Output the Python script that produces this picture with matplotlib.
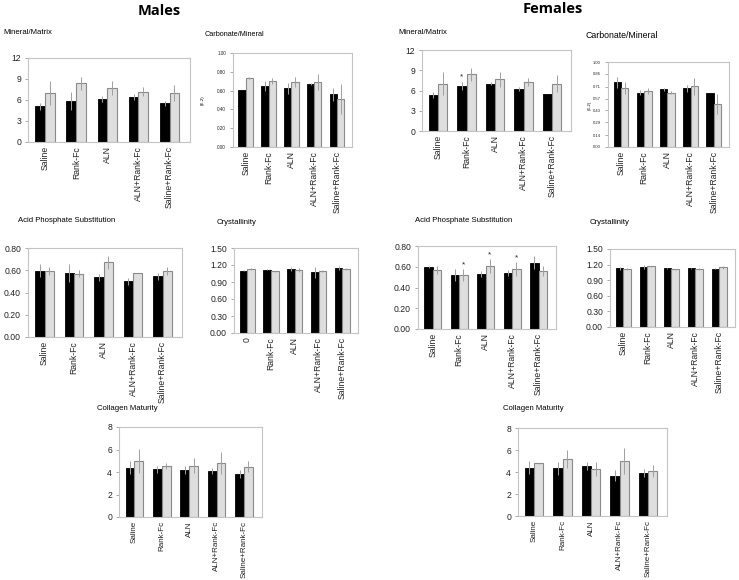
import matplotlib
matplotlib.use('Agg')
import matplotlib.pyplot as plt
import numpy as np

plt.rcParams['font.family'] = ['Liberation Sans', 'DejaVu Sans']

W, H = 739, 580

groups = ['Saline', 'Rank-Fc', 'ALN', 'ALN+Rank-Fc', 'Saline+Rank-Fc']
groups_cryst_m = ['0', 'Rank-Fc', 'ALN', 'ALN+Rank-Fc', 'Saline+Rank-Fc']

# Males
m_mm_black = [5.1, 5.85, 6.1, 6.4, 5.5]
m_mm_black_err = [0.5, 1.35, 0.4, 0.4, 0.4]
m_mm_grey = [7.0, 8.4, 7.7, 7.2, 7.0]
m_mm_grey_err = [1.7, 0.95, 1.0, 0.6, 1.2]

m_carb_black = [0.61, 0.65, 0.625, 0.67, 0.56]
m_carb_black_err = [0.0, 0.05, 0.06, 0.015, 0.07]
m_carb_grey = [0.73, 0.70, 0.69, 0.69, 0.51]
m_carb_grey_err = [0.01, 0.03, 0.05, 0.085, 0.16]

m_acid_black = [0.595, 0.575, 0.535, 0.50, 0.545]
m_acid_black_err = [0.06, 0.08, 0.03, 0.03, 0.03]
m_acid_grey = [0.59, 0.57, 0.67, 0.575, 0.59]
m_acid_grey_err = [0.035, 0.035, 0.055, 0.0, 0.035]

m_cryst_black = [1.10, 1.12, 1.13, 1.07, 1.15]
m_cryst_black_err = [0.01, 0.01, 0.03, 0.10, 0.03]
m_cryst_grey = [1.13, 1.09, 1.11, 1.09, 1.13]
m_cryst_grey_err = [0.01, 0.01, 0.04, 0.02, 0.02]

m_coll_black = [4.39, 4.24, 4.2, 4.09, 3.85]
m_coll_black_err = [0.6, 0.3, 0.35, 0.24, 0.35]
m_coll_grey = [4.98, 4.54, 4.57, 4.78, 4.48]
m_coll_grey_err = [1.05, 0.24, 0.7, 1.0, 0.5]

# Females
f_mm_black = [5.33, 6.67, 7.0, 6.27, 5.43]
f_mm_black_err = [0.45, 0.6, 0.25, 0.3, 0.0]
f_mm_grey = [7.0, 8.4, 7.65, 7.26, 7.0]
f_mm_grey_err = [1.7, 1.0, 1.1, 0.65, 1.25]

f_carb_black = [0.76, 0.64, 0.68, 0.69, 0.63]
f_carb_black_err = [0.065, 0.03, 0.02, 0.045, 0.0]
f_carb_grey = [0.69, 0.66, 0.64, 0.716, 0.506]
f_carb_grey_err = [0.07, 0.04, 0.02, 0.10, 0.12]

f_acid_black = [0.598, 0.52, 0.53, 0.54, 0.64]
f_acid_black_err = [0.01, 0.055, 0.025, 0.03, 0.06]
f_acid_grey = [0.566, 0.52, 0.605, 0.58, 0.557]
f_acid_grey_err = [0.04, 0.06, 0.065, 0.065, 0.05]

f_cryst_black = [1.13, 1.15, 1.13, 1.13, 1.12]
f_cryst_black_err = [0.03, 0.04, 0.01, 0.01, 0.01]
f_cryst_grey = [1.12, 1.17, 1.11, 1.11, 1.15]
f_cryst_grey_err = [0.02, 0.01, 0.01, 0.02, 0.03]

f_coll_black = [4.4, 4.34, 4.55, 3.68, 3.87]
f_coll_black_err = [0.6, 0.6, 0.4, 0.5, 0.36]
f_coll_grey = [4.79, 5.18, 4.28, 5.0, 4.1]
f_coll_grey_err = [0.06, 0.8, 0.66, 1.15, 0.57]

# significance stars: (group index, which bar, y value)
f_mm_stars = [(1, 'black', 8.05)]
f_acid_stars = [(1, 'grey', 0.62), (2, 'grey', 0.71), (3, 'grey', 0.69)]

fig = plt.figure(figsize=(W / 100, H / 100), dpi=100)


def px_axes(left, top, right, bottom):
    return fig.add_axes([left / W, 1 - bottom / H, (right - left) / W, (bottom - top) / H])


def draw_panel(box, black, black_err, grey, grey_err, yticks, fmt, labels=groups,
               tick_size=6.2, stars=None, xlab_size=6.2):
    ax = px_axes(*box)
    x = np.arange(len(labels))
    bw = 0.32
    ax.bar(x - bw, black, bw, align='edge', color='black', edgecolor='black', linewidth=0.6, zorder=2)
    ax.bar(x, grey, bw, align='edge', color='#dedede', edgecolor='#8a8a8a', linewidth=0.8, zorder=2)
    ax.errorbar(x - bw / 2, black, yerr=black_err, fmt='none', ecolor='#a0a0a0', elinewidth=0.7, capsize=0, zorder=3)
    ax.errorbar(x + bw / 2, grey, yerr=grey_err, fmt='none', ecolor='#a0a0a0', elinewidth=0.7, capsize=0, zorder=3)
    ax.set_xlim(-0.56, len(labels) - 0.34)
    ax.set_ylim(yticks[0], yticks[-1])
    ax.set_yticks(yticks)
    ax.set_yticklabels([fmt.format(t) for t in yticks], fontsize=tick_size, color='#222222')
    ax.set_xticks(x)
    ax.set_xticklabels(labels, rotation=90, fontsize=xlab_size, color='#222222')
    ax.tick_params(axis='x', length=0, pad=3)
    ax.tick_params(axis='y', length=2, width=0.5, color='#888888', pad=3)
    for s in ax.spines.values():
        s.set_color('#c4c4c4')
        s.set_linewidth(0.8)
    if stars:
        for i, which, y in stars:
            xs = x[i] - bw / 2 if which == 'black' else x[i] + bw / 2
            ax.text(xs, y, '*', ha='center', va='center', fontsize=6, color='#222222')
    return ax


# ---- Males ----
fig.text(159 / W, 1 - 11 / H, 'Males', ha='center', va='center', fontsize=10.5,
         fontweight='bold', family=['Open Sans', 'DejaVu Sans'])

draw_panel((28, 58, 190, 142), m_mm_black, m_mm_black_err, m_mm_grey, m_mm_grey_err,
           [0, 3, 6, 9, 12], '{:.0f}')
fig.text(3 / W, 1 - 33 / H, 'Mineral/Matrix', fontsize=5.6, va='center')

draw_panel((233, 53, 352, 147), m_carb_black, m_carb_black_err, m_carb_grey, m_carb_grey_err,
           [0, 0.2, 0.4, 0.6, 0.8, 1.0], '{:.2f}', tick_size=3.3)
fig.text(205 / W, 1 - 35 / H, 'Carbonate/Mineral', fontsize=5.2, va='center')
fig.text(203 / W, 1 - 100 / H, '(E-2)', fontsize=3.2, rotation=90, ha='center', va='center')

draw_panel((28, 248, 182, 337), m_acid_black, m_acid_black_err, m_acid_grey, m_acid_grey_err,
           [0, 0.2, 0.4, 0.6, 0.8], '{:.2f}')
fig.text(18 / W, 1 - 221 / H, 'Acid Phosphate Substitution', fontsize=5.6, va='center')

draw_panel((234, 248, 358, 333), m_cryst_black, m_cryst_black_err, m_cryst_grey, m_cryst_grey_err,
           [0, 0.3, 0.6, 0.9, 1.2, 1.5], '{:.2f}', labels=groups_cryst_m)
fig.text(217 / W, 1 - 222 / H, 'Crystallinity', fontsize=5.6, va='center')

draw_panel((119, 427, 262, 517), m_coll_black, m_coll_black_err, m_coll_grey, m_coll_grey_err,
           [0, 2, 4, 6, 8], '{:.0f}', xlab_size=5.8)
fig.text(97 / W, 1 - 408 / H, 'Collagen Maturity', fontsize=5.6, va='center')

# ---- Females ----
fig.text(553 / W, 1 - 9 / H, 'Females', ha='center', va='center', fontsize=10.5,
         fontweight='bold', family=['Open Sans', 'DejaVu Sans'])

draw_panel((422, 50, 571, 131), f_mm_black, f_mm_black_err, f_mm_grey, f_mm_grey_err,
           [0, 3, 6, 9, 12], '{:.0f}', stars=f_mm_stars)
fig.text(398 / W, 1 - 33 / H, 'Mineral/Matrix', fontsize=5.6, va='center')

draw_panel((608, 62, 729, 147), f_carb_black, f_carb_black_err, f_carb_grey, f_carb_grey_err,
           [0, 0.14, 0.29, 0.43, 0.57, 0.71, 0.86, 1.0], '{:.2f}', tick_size=3.0)
fig.text(585 / W, 1 - 35 / H, 'Carbonate/Mineral', fontsize=6.3, va='center')
fig.text(590 / W, 1 - 105 / H, '(E-2)', fontsize=3.0, rotation=90, ha='center', va='center')

draw_panel((418, 246, 556, 329), f_acid_black, f_acid_black_err, f_acid_grey, f_acid_grey_err,
           [0, 0.2, 0.4, 0.6, 0.8], '{:.2f}', stars=f_acid_stars)
fig.text(415 / W, 1 - 220 / H, 'Acid Phosphate Substitution', fontsize=5.6, va='center')

draw_panel((610, 249, 735, 327), f_cryst_black, f_cryst_black_err, f_cryst_grey, f_cryst_grey_err,
           [0, 0.3, 0.6, 0.9, 1.2, 1.5], '{:.2f}')
fig.text(590 / W, 1 - 222 / H, 'Crystallinity', fontsize=5.6, va='center')

draw_panel((518, 428, 667, 516), f_coll_black, f_coll_black_err, f_coll_grey, f_coll_grey_err,
           [0, 2, 4, 6, 8], '{:.0f}', xlab_size=5.8)
fig.text(503 / W, 1 - 408 / H, 'Collagen Maturity', fontsize=5.6, va='center')

fig.savefig('out.png', dpi=100)
